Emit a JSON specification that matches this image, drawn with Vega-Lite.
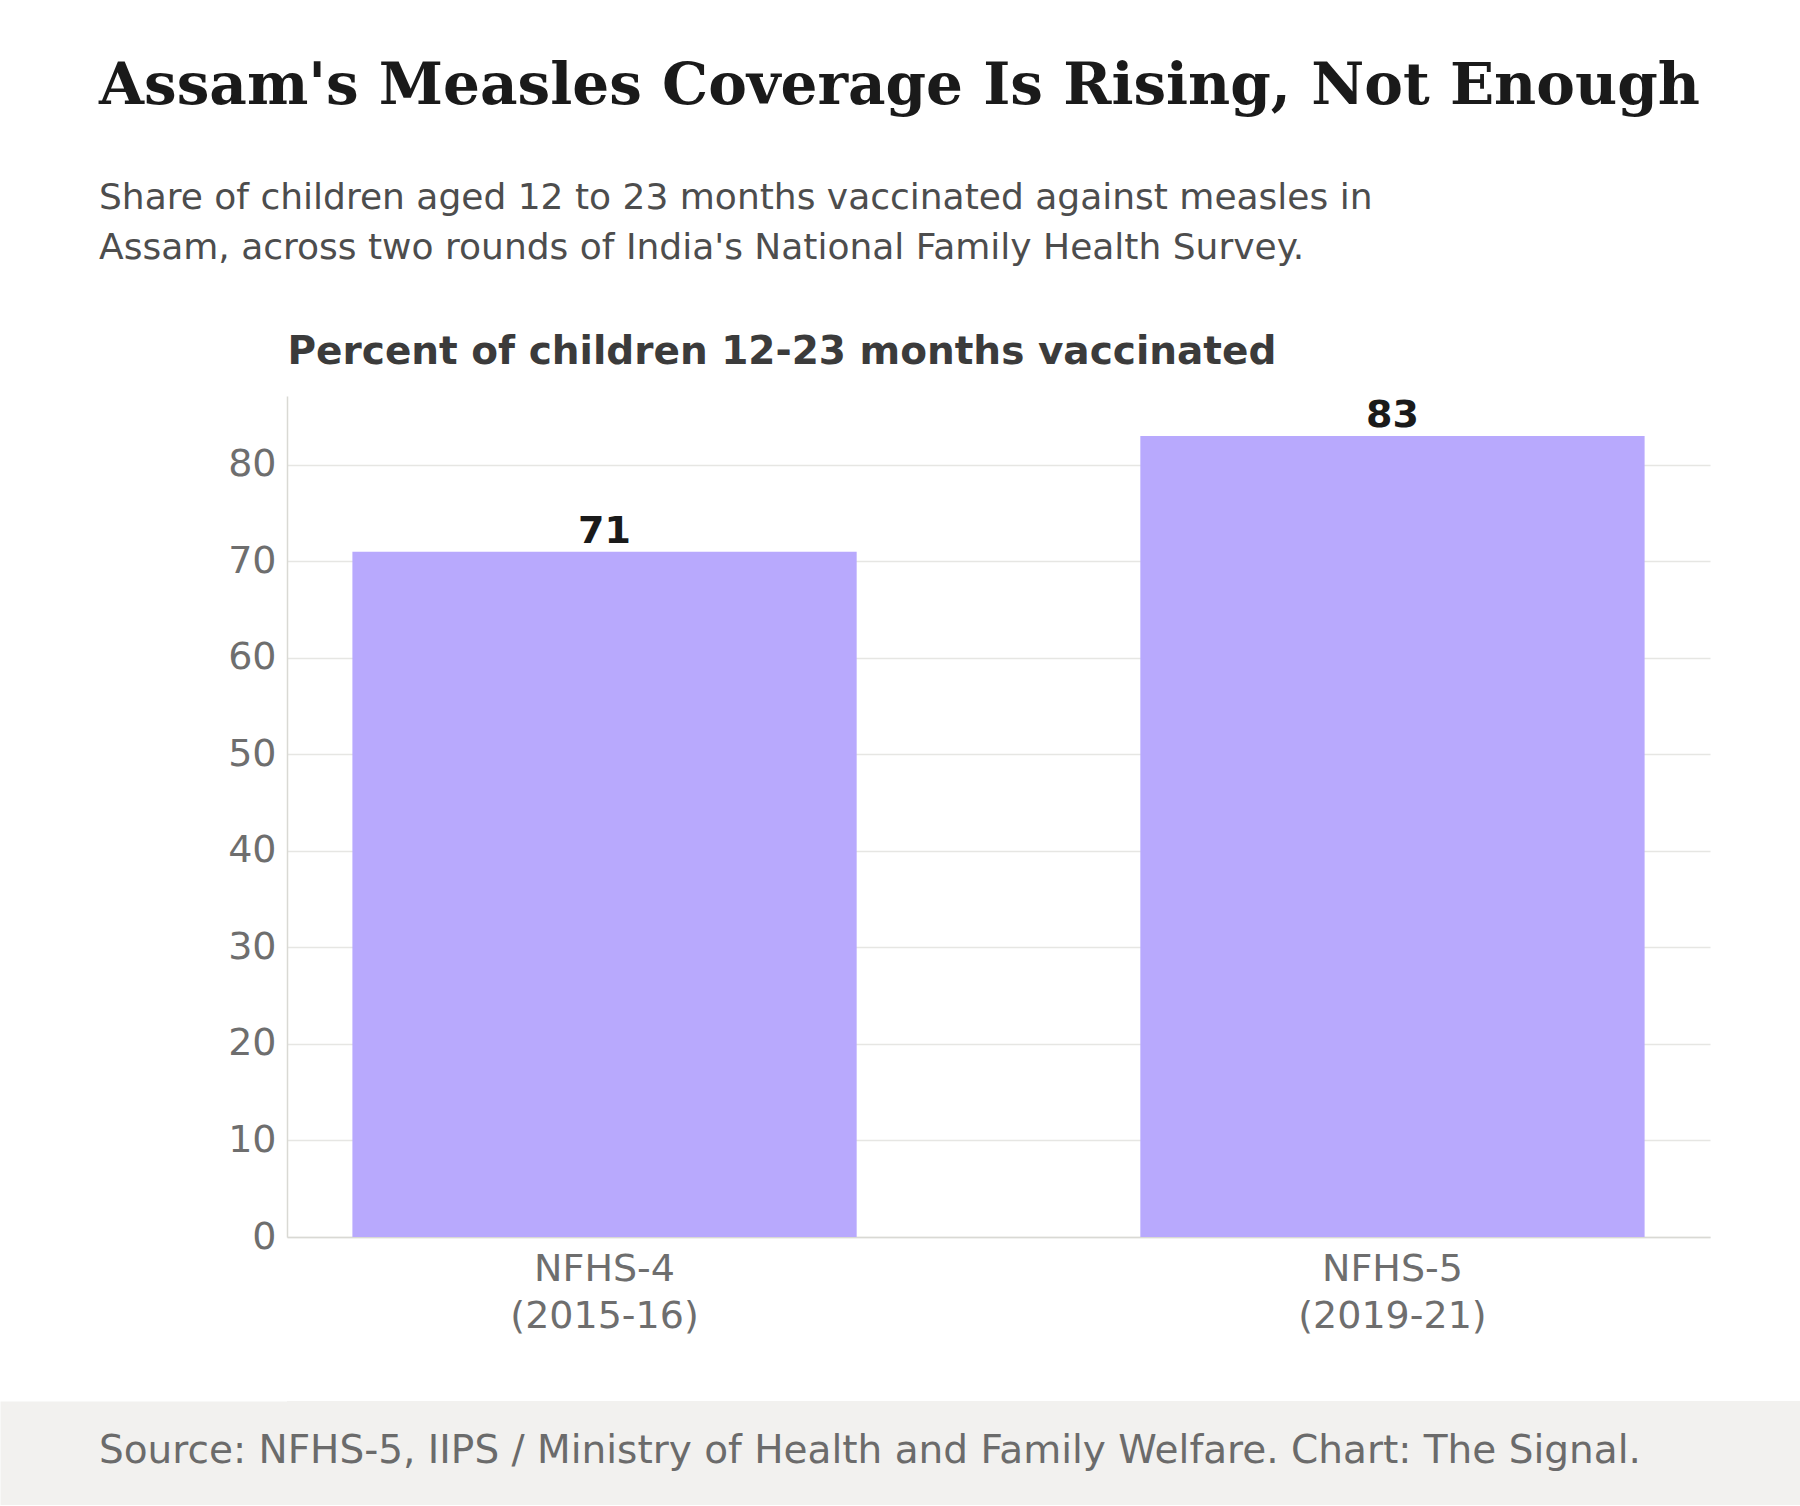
{
  "$schema": "https://vega.github.io/schema/vega-lite/v6.json",
  "background": "white",
  "padding": {"left": -52, "right": 0, "top": 58, "bottom": 0},
  "autosize": {"type": "pad"},
  "spacing": 66,
  "config": {
    "view": {"stroke": null},
    "font": "DejaVu Sans"
  },
  "title": {
    "text": "Assam's Measles Coverage Is Rising, Not Enough",
    "subtitle": [
      "Share of children aged 12 to 23 months vaccinated against measles in",
      "Assam, across two rounds of India's National Family Health Survey."
    ],
    "anchor": "start",
    "frame": "bounds",
    "dx": 151,
    "offset": 66,
    "font": "DejaVu Serif",
    "fontSize": 58,
    "fontWeight": "bold",
    "color": "#1a1a1a",
    "subtitleFont": "DejaVu Sans",
    "subtitleFontSize": 36,
    "subtitleFontWeight": "normal",
    "subtitleColor": "#4d4d4d",
    "subtitleLineHeight": 50,
    "subtitlePadding": 65
  },
  "vconcat": [
    {
      "width": 1423,
      "height": 841,
      "data": {
        "values": [
          {"survey": "NFHS-4|(2015-16)", "pct": 71},
          {"survey": "NFHS-5|(2019-21)", "pct": 83}
        ]
      },
      "encoding": {
        "x": {
          "field": "survey",
          "type": "nominal",
          "sort": null,
          "scale": {"paddingInner": 0.36, "paddingOuter": 0.083},
          "axis": {
            "title": null,
            "labelAngle": 0,
            "labelExpr": "split(datum.label, '|')",
            "labelLimit": 0,
            "labelFont": "DejaVu Sans",
            "labelFontSize": 38,
            "labelColor": "#6e6e6e",
            "labelLineHeight": 47,
            "labelPadding": 13,
            "ticks": false,
            "domain": true,
            "domainColor": "#d9d9d4",
            "domainWidth": 1.5,
            "grid": false
          }
        },
        "y": {
          "field": "pct",
          "type": "quantitative",
          "scale": {"domain": [0, 87.15], "nice": false, "zero": true},
          "axis": {
            "title": "Percent of children 12-23 months vaccinated",
            "titleAngle": 0,
            "titleAlign": "left",
            "titleBaseline": "alphabetic",
            "titleX": 0,
            "titleY": -33,
            "titleFont": "DejaVu Sans",
            "titleFontSize": 39,
            "titleFontWeight": "bold",
            "titleColor": "#3b3b3b",
            "values": [0, 10, 20, 30, 40, 50, 60, 70, 80],
            "labelFont": "DejaVu Sans",
            "labelFontSize": 38,
            "labelColor": "#6e6e6e",
            "labelPadding": 11,
            "ticks": false,
            "domain": true,
            "domainColor": "#d9d9d4",
            "domainWidth": 1.5,
            "grid": true,
            "gridColor": "#e6e6e3",
            "gridWidth": 1.5
          }
        }
      },
      "layer": [
        {"mark": {"type": "bar", "color": "#b8a9fd"}},
        {
          "mark": {
            "type": "text",
            "baseline": "alphabetic",
            "dy": -9,
            "font": "DejaVu Sans",
            "fontSize": 38,
            "fontWeight": "bold",
            "color": "#1a1a1a"
          },
          "encoding": {"text": {"field": "pct", "type": "quantitative"}}
        }
      ]
    },
    {
      "width": 1513,
      "height": 104,
      "view": {"fill": "#f2f1ef", "stroke": null},
      "title": {
        "text": "Source: NFHS-5, IIPS / Ministry of Health and Family Welfare. Chart: The Signal.",
        "orient": "top",
        "anchor": "start",
        "frame": "group",
        "dx": -188,
        "offset": -101,
        "baseline": "alphabetic",
        "font": "DejaVu Sans",
        "fontSize": 39,
        "fontWeight": "normal",
        "color": "#6b6b6b"
      },
      "data": {"values": [{"band": 0.5}]},
      "mark": {"type": "point", "opacity": 0},
      "encoding": {
        "y": {
          "field": "band",
          "type": "quantitative",
          "scale": {"domain": [0, 1]},
          "axis": {
            "title": null,
            "values": [0.5],
            "labels": false,
            "domain": false,
            "grid": false,
            "ticks": true,
            "tickSize": 287,
            "tickWidth": 104,
            "tickCap": "butt",
            "tickColor": "#f2f1ef"
          }
        }
      }
    }
  ]
}
